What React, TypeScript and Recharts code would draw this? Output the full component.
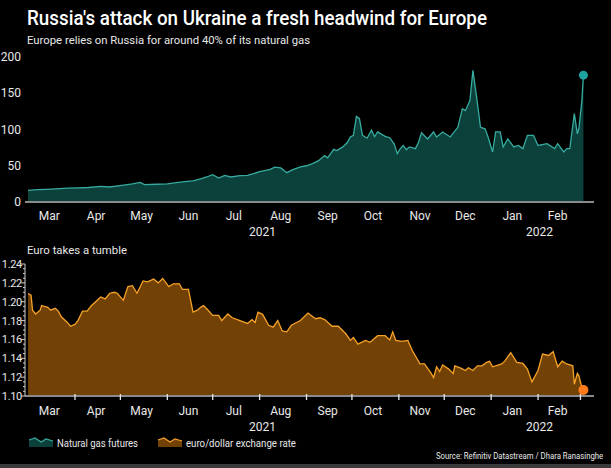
import React from "react";
import { AreaChart, Area, XAxis, YAxis, ReferenceDot } from "recharts";

// day numbers are counted from 1 March 2021
const gasDays = [
  0, 6, 12, 18, 26, 33, 40, 48, 54, 62, 69, 74, 77, 85, 92, 98, 105, 109, 114, 118,
  122, 126, 130, 134, 140, 145, 149, 153, 157, 160, 163, 167, 171, 175, 180, 184, 188, 192, 196, 198,
  202, 204, 208, 211, 213, 215, 217, 219, 221, 224, 227, 229, 231, 236, 239, 242, 244, 246, 248, 250,
  252, 256, 258, 260, 264, 268, 270, 274, 279, 284, 287, 289, 292, 294, 297, 299, 302, 304, 307, 309,
  312, 314, 317, 321, 324, 327, 330, 334, 337, 343, 348, 350, 354, 356, 358, 361, 363, 364, 366, 367,
];
const gasPrices = [
  16, 17, 17.5, 18, 19, 19.5, 20, 21.5, 20.7, 23, 25, 27, 24, 24.5, 25, 26.7, 28.5, 29, 32, 34.5,
  37.7, 33, 36.8, 34.5, 36.3, 36.8, 39, 42, 43.5, 45, 48, 47, 40.5, 44.6, 48.3, 50, 53, 57, 64, 61,
  72.6, 71, 76, 82, 89.7, 92, 118, 115, 92, 88, 99, 90, 96.6, 90.6, 88.7, 80, 66.7, 73.6, 78, 72,
  76, 73.6, 82, 95.6, 87, 96.6, 89.7, 96.6, 89.7, 103, 128.7, 126, 140, 181.6, 135.6, 103, 101, 89.7, 69, 96.6,
  96.6, 76, 87, 76, 78, 73.6, 92, 92, 78, 80.5, 73.6, 80.5, 69, 73.6, 73.6, 122, 94, 101, 140, 175,
];

const fxDays = [
  0, 2, 3, 5, 8, 9, 13, 15, 18, 20, 22, 26, 28, 31, 33, 36, 39, 42, 44, 48,
  51, 54, 57, 59, 63, 66, 69, 72, 76, 79, 83, 86, 89, 93, 96, 100, 102, 106, 109, 112,
  114, 116, 119, 122, 126, 128, 132, 135, 140, 145, 148, 150, 152, 155, 159, 162, 165, 168, 171, 174,
  180, 185, 190, 193, 196, 201, 205, 210, 213, 215, 218, 223, 226, 231, 236, 239, 241, 243, 247, 251,
  254, 259, 262, 266, 268, 270, 272, 274, 278, 281, 282, 286, 289, 291, 294, 297, 300, 303, 305, 307,
  311, 313, 315, 319, 323, 327, 330, 333, 337, 340, 344, 347, 350, 353, 356, 360, 361, 363, 364, 366, 367,
];
const fxRates = [
  1.2087, 1.207, 1.191, 1.187, 1.191, 1.196, 1.194, 1.191, 1.193, 1.19, 1.184, 1.178, 1.174, 1.176, 1.18, 1.19, 1.19, 1.196, 1.199, 1.205,
  1.203, 1.209, 1.21, 1.209, 1.2015, 1.216, 1.217, 1.209, 1.222, 1.221, 1.224, 1.22, 1.2247, 1.216, 1.219, 1.219, 1.213, 1.213, 1.189, 1.191,
  1.194, 1.196, 1.191, 1.1855, 1.1855, 1.18, 1.187, 1.183, 1.18, 1.177, 1.181, 1.178, 1.189, 1.1866, 1.175, 1.173, 1.18, 1.169, 1.168, 1.175,
  1.18, 1.188, 1.182, 1.183, 1.181, 1.174, 1.174, 1.166, 1.159, 1.162, 1.155, 1.159, 1.157, 1.164, 1.164, 1.1595, 1.168, 1.159, 1.158, 1.159,
  1.148, 1.134, 1.134, 1.125, 1.1196, 1.131, 1.126, 1.133, 1.1285, 1.124, 1.132, 1.1296, 1.127, 1.13, 1.127, 1.132, 1.132, 1.1356, 1.1367, 1.131,
  1.133, 1.134, 1.137, 1.146, 1.1356, 1.1345, 1.1285, 1.115, 1.127, 1.1445, 1.143, 1.147, 1.131, 1.137, 1.134, 1.132, 1.1125, 1.124, 1.1214, 1.109, 1.1064,
];

const months = ["Mar", "Apr", "May", "Jun", "Jul", "Aug", "Sep", "Oct", "Nov", "Dec", "Jan", "Feb"];
const monthMid = [14, 45, 75, 106, 136, 167, 198, 228, 259, 289, 320, 350];
const monthStart = [31, 61, 92, 122, 153, 184, 214, 245, 275, 306, 337, 365];
const years = ["2021", "2022"];
const yearPos = [155, 338];

const gasTicks = [0, 50, 100, 150, 200];
const fxLabels = [1.1, 1.12, 1.14, 1.16, 1.18, 1.2, 1.22, 1.24];
const fxTicks = [
  1.1, 1.105, 1.11, 1.115, 1.12, 1.125, 1.13, 1.135, 1.14, 1.145, 1.15, 1.155, 1.16, 1.165, 1.17,
  1.175, 1.18, 1.185, 1.19, 1.195, 1.2, 1.205, 1.21, 1.215, 1.22, 1.225, 1.23, 1.235, 1.24,
];

const gasData = gasDays.map((day, i) => ({ day, gas: gasPrices[i] }));
const fxData = fxDays.map((day, i) => ({ day, fx: fxRates[i] }));

const FONT = "Roboto, 'Noto Sans', sans-serif";
const TXT = "#e8e8e8";
const DOMAIN: [number, number] = [-2, 374];

const dateTick = (withLines: boolean, monthDy: number) => (props: any) => {
  const { x, y, payload } = props;
  const v = payload.value;
  const m = monthMid.indexOf(v);
  const yr = yearPos.indexOf(v);
  if (m >= 0)
    return (
      <text x={x} y={y + monthDy} textAnchor="middle" fill={TXT} fontSize={12} fontFamily={FONT}>
        {months[m]}
      </text>
    );
  if (yr >= 0)
    return (
      <text x={x} y={y + monthDy + 16} textAnchor="middle" fill={TXT} fontSize={12} fontFamily={FONT}>
        {years[yr]}
      </text>
    );
  if (withLines) return <rect x={x - 0.6} y={y - 2} width={1.3} height={6} fill="#e6e6e6" />;
  return <g />;
};

const gasYTick = (props: any) => (
  <text x={props.x - 4} y={props.y + 4} textAnchor="end" fill={TXT} fontSize={12} fontFamily={FONT}>
    {props.payload.value}
  </text>
);

const fxYTick = (props: any) => {
  const { x, y, payload } = props;
  const v = payload.value;
  const major = fxLabels.some((l) => Math.abs(l - v) < 1e-6);
  return (
    <g>
      <line x1={x - (major ? 4 : 2)} x2={x} y1={y} y2={y} stroke="#d0d0d0" strokeWidth={1} />
      {major && (
        <text x={x - 3} y={y + 4} textAnchor="end" fill={TXT} fontSize={11} fontFamily={FONT} letterSpacing={-0.3}>
          {v.toFixed(2)}
        </text>
      )}
    </g>
  );
};

export default function App() {
  return (
    <div
      style={{
        position: "absolute",
        left: 0,
        top: 0,
        width: 611,
        height: 468,
        background: "#000",
        overflow: "hidden",
        fontFamily: FONT,
      }}
    >
      <svg width={611} height={468} style={{ position: "absolute", left: 0, top: 0 }}>
        <text x={27} y={25} fill="#fff" fontSize={20} fontWeight={500} fontFamily={FONT} textLength={460} lengthAdjust="spacingAndGlyphs">
          Russia's attack on Ukraine a fresh headwind for Europe
        </text>
        <text x={27} y={44} fill={TXT} fontSize={11.5} fontFamily={FONT} textLength={283} lengthAdjust="spacingAndGlyphs">
          Europe relies on Russia for around 40% of its natural gas
        </text>
        <text x={27} y={254} fill={TXT} fontSize={11.5} fontFamily={FONT} textLength={100} lengthAdjust="spacingAndGlyphs">
          Euro takes a tumble
        </text>
        <path d="M29,447 L29,440 L35,438 L41,442 L46,439 L53,441 L53,447 Z" fill="#0b403b" />
        <path d="M29,440 L35,438 L41,442 L46,439 L53,441" fill="none" stroke="#37ab9f" strokeWidth={1.2} />
        <text x={57} y={447} fill={TXT} fontSize={11} fontFamily={FONT} textLength={81} lengthAdjust="spacingAndGlyphs">
          Natural gas futures
        </text>
        <path d="M158,447 L158,440 L164,438 L170,442 L175,439 L182,441 L182,447 Z" fill="#714106" />
        <path d="M158,440 L164,438 L170,442 L175,439 L182,441" fill="none" stroke="#f6a227" strokeWidth={1.2} />
        <text x={186} y={447} fill={TXT} fontSize={11} fontFamily={FONT} textLength={110} lengthAdjust="spacingAndGlyphs">
          euro/dollar exchange rate
        </text>
        <g transform="translate(436,459) scale(0.8,1)">
          <text x={0} y={0} fill={TXT} fontSize={9} fontFamily={FONT} textLength={209} lengthAdjust="spacingAndGlyphs">
            Source: Refinitiv Datastream / Dhara Ranasinghe
          </text>
        </g>
        <rect x={0} y={464} width={611} height={4} fill="#3a3a3a" />
      </svg>

      <div style={{ position: "absolute", left: 0, top: 50 }}>
        <AreaChart width={611} height={192} data={gasData} margin={{ top: 7, right: 17, bottom: 0, left: 0 }}>
          <XAxis
            dataKey="day"
            type="number"
            domain={DOMAIN}
            ticks={[...monthMid, ...yearPos]}
            interval={0}
            height={40}
            tickSize={0}
            tickMargin={0}
            tickLine={false}
            axisLine={{ stroke: "#8a8a8a", strokeWidth: 2 }}
            tick={dateTick(false, 18)}
          />
          <YAxis
            type="number"
            domain={[0, 200]}
            ticks={gasTicks}
            interval={0}
            width={25}
            tickSize={0}
            tickMargin={0}
            tickLine={false}
            axisLine={false}
            tick={gasYTick}
          />
          <Area
            type="linear"
            dataKey="gas"
            stroke="#37ab9f"
            strokeWidth={1.3}
            fill="#0b403b"
            fillOpacity={1}
            isAnimationActive={false}
          />
          <ReferenceDot x={gasDays[gasDays.length - 1]} y={gasPrices[gasPrices.length - 1]} r={4.5} fill="#1ea3a1" stroke="none" />
        </AreaChart>
      </div>

      <div style={{ position: "absolute", left: 0, top: 255 }}>
        <AreaChart width={611} height={181} data={fxData} margin={{ top: 9, right: 17, bottom: 0, left: 0 }}>
          <XAxis
            dataKey="day"
            type="number"
            domain={DOMAIN}
            ticks={[...monthStart, ...monthMid, ...yearPos]}
            interval={0}
            height={40}
            tickSize={0}
            tickMargin={0}
            tickLine={false}
            axisLine={{ stroke: "#8a8a8a", strokeWidth: 2 }}
            tick={dateTick(true, 19)}
          />
          <YAxis
            type="number"
            domain={[1.1, 1.24]}
            ticks={fxTicks}
            interval={0}
            width={25}
            tickSize={0}
            tickMargin={0}
            tickLine={false}
            axisLine={{ stroke: "#cfcfcf", strokeWidth: 1 }}
            tick={fxYTick}
            allowDataOverflow
          />
          <Area
            type="linear"
            dataKey="fx"
            stroke="#f6a227"
            strokeWidth={1.3}
            fill="#714106"
            fillOpacity={1}
            isAnimationActive={false}
          />
          <ReferenceDot x={fxDays[fxDays.length - 1]} y={fxRates[fxRates.length - 1]} r={5} fill="#ff7b1a" stroke="none" />
        </AreaChart>
      </div>
    </div>
  );
}
